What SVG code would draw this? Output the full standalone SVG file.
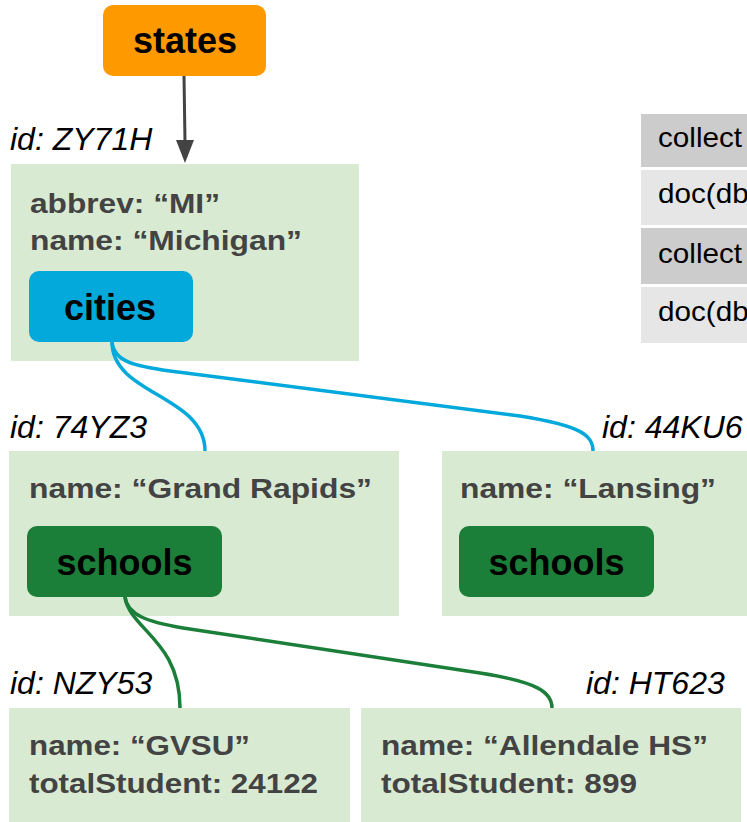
<svg xmlns="http://www.w3.org/2000/svg" width="747" height="822" viewBox="0 0 747 822">
<style>
.doc{fill:#d9ead3}
.f{font-family:"Liberation Sans",Arial,sans-serif;font-weight:bold;font-size:28px;fill:#434343}
.idl{font-family:"Liberation Sans",Arial,sans-serif;font-style:italic;font-size:32px;fill:#000}
.big{font-family:"Liberation Sans",Arial,sans-serif;font-weight:bold;font-size:36px;fill:#000;text-anchor:middle}
.tb{font-family:"Liberation Sans",Arial,sans-serif;font-size:28px;fill:#000}
.blue{fill:none;stroke:#03a9db;stroke-width:3.5}
.green{fill:none;stroke:#1b7f3a;stroke-width:3.5}
</style>
<rect width="747" height="822" fill="#fff"/>
<g id="table">
<rect x="641" y="114" width="106" height="53" fill="#cccccc"/>
<rect x="641" y="170" width="106" height="55" fill="#e6e6e6"/>
<rect x="641" y="228" width="106" height="56" fill="#cccccc"/>
<rect x="641" y="287" width="106" height="56" fill="#e6e6e6"/>
<text class="tb" transform="translate(658,147) scale(1.06,1)">collect</text>
<text class="tb" transform="translate(658,203) scale(1.06,1)">doc(db</text>
<text class="tb" transform="translate(658,263) scale(1.06,1)">collect</text>
<text class="tb" transform="translate(658,321) scale(1.06,1)">doc(db</text>
</g>
<g id="states">
<rect x="103" y="5" width="163" height="71" rx="10" fill="#ff9900"/>
<text class="big" x="185" y="53">states</text>
</g>
<g id="michigan">
<text class="idl" x="10" y="150">id: ZY71H</text>
<rect class="doc" x="11" y="164" width="348" height="197"/>
<text class="f" x="30" y="213" textLength="190" lengthAdjust="spacingAndGlyphs">abbrev: “MI”</text>
<text class="f" x="30" y="250" textLength="272" lengthAdjust="spacingAndGlyphs">name: “Michigan”</text>
<rect x="29" y="271" width="164" height="71" rx="10" fill="#03a9db"/>
<text class="big" x="110" y="320">cities</text>
</g>
<g id="grandrapids">
<text class="idl" x="10" y="438">id: 74YZ3</text>
<rect class="doc" x="9" y="451" width="390" height="165"/>
<text class="f" x="29" y="498" textLength="343" lengthAdjust="spacingAndGlyphs">name: “Grand Rapids”</text>
<rect x="27" y="526" width="195" height="71" rx="10" fill="#1b7f3a"/>
<text class="big" x="124.5" y="575">schools</text>
</g>
<g id="lansing">
<text class="idl" x="602" y="438">id: 44KU6</text>
<rect class="doc" x="442" y="451" width="305" height="165"/>
<text class="f" x="460" y="498" textLength="256" lengthAdjust="spacingAndGlyphs">name: “Lansing”</text>
<rect x="459" y="526" width="195" height="71" rx="10" fill="#1b7f3a"/>
<text class="big" x="556.5" y="575">schools</text>
</g>
<g id="gvsu">
<text class="idl" x="10" y="694">id: NZY53</text>
<rect class="doc" x="9" y="708" width="341" height="114"/>
<text class="f" x="29" y="755" textLength="221" lengthAdjust="spacingAndGlyphs">name: “GVSU”</text>
<text class="f" x="29" y="793" textLength="289" lengthAdjust="spacingAndGlyphs">totalStudent: 24122</text>
</g>
<g id="allendale">
<text class="idl" x="586" y="694">id: HT623</text>
<rect class="doc" x="361" y="708" width="380" height="114"/>
<text class="f" x="381" y="755" textLength="327" lengthAdjust="spacingAndGlyphs">name: “Allendale HS”</text>
<text class="f" x="381" y="793" textLength="256" lengthAdjust="spacingAndGlyphs">totalStudent: 899</text>
</g>
<g id="connectors">
<line x1="184" y1="76" x2="185" y2="142" stroke="#434343" stroke-width="3"/>
<polygon points="176,140 194,140 185,163" fill="#434343"/>
<path class="blue" d="M112,342 C112,395 205,395 205,451"/>
<path class="blue" d="M112,342 C114,362 135,366 170,371 L520,416 C583,426 593,436 593,451"/>
<path class="green" d="M125,597 C130,630 180,640 180,708"/>
<path class="green" d="M125,597 C127,615 148,622 183,628 L480,673 C537,682 552,692 552,708"/>
</g>
</svg>
